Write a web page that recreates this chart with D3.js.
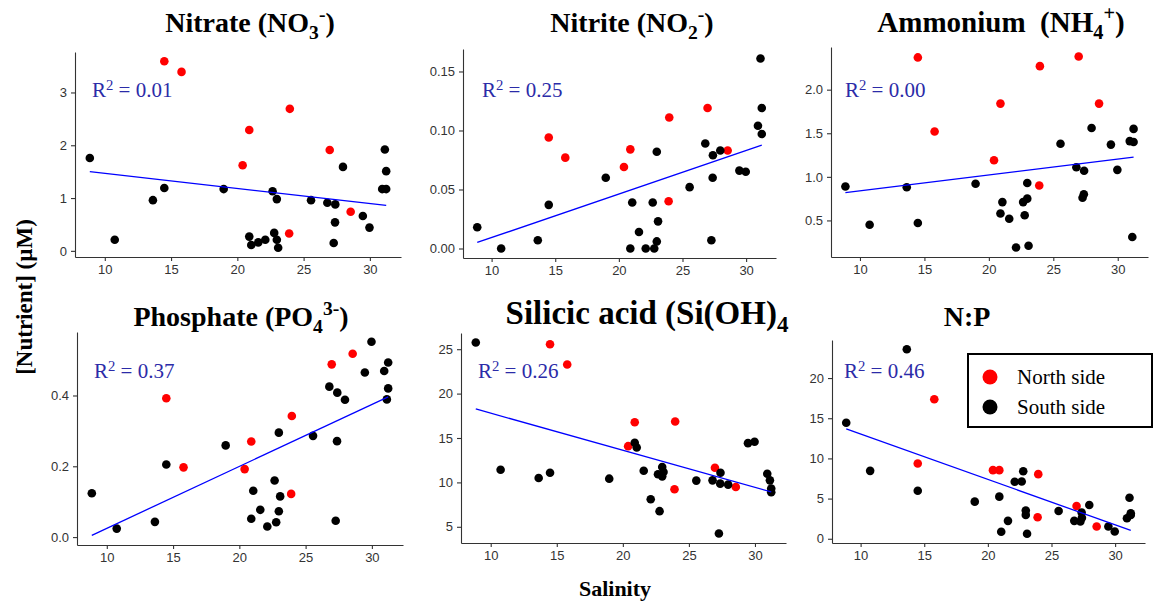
<!DOCTYPE html>
<html>
<head>
<meta charset="utf-8">
<script src="https://cdn.jsdelivr.net/npm/d3@7"></script>
<style>
  body { margin: 0; background: #fff; }
  text { white-space: pre; }
</style>
</head>
<body>
<svg id="chart" width="1155" height="601"></svg>
<script>
// salinity of the sampling stations (north side / south side)
const salinityNorth = [14.49, 15.79, 20.40, 20.90, 23.96, 23.91, 26.97, 28.55];
const salinitySouth = [8.87, 10.75, 13.63, 14.49, 18.97, 20.90, 21.05, 21.58, 22.11, 22.66,
  22.78, 22.98, 22.98, 23.08, 25.56, 26.79, 27.27, 27.37, 27.39, 27.97, 29.47, 29.97,
  30.93, 31.13, 31.23, 31.23];

// nutrient concentrations (uM), same station order as above
const nitrateNorth = [3.59, 3.39, 1.62, 2.29, 2.69, 0.33, 1.91, 0.74];
const nitrateSouth = [1.76, 0.21, 0.96, 1.19, 1.17, 0.27, 0.11, 0.16, 0.21, 1.13, 0.34, 0.98, 0.21,
  0.06, 0.96, 0.91, 0.15, 0.54, 0.88, 1.59, 0.66, 0.44, 1.17, 1.92, 1.17, 1.51];

const nitriteNorth = [0.094, 0.077, 0.069, 0.084, 0.111, 0.040, 0.119, 0.083];
const nitriteSouth = [0.018, 0.000, 0.007, 0.037, 0.060, 0.000, 0.039, 0.014, 0.000, 0.039, 0.000,
  0.006, 0.082, 0.023, 0.052, 0.089, 0.007, 0.060, 0.079, 0.083, 0.066, 0.065, 0.104, 0.161, 0.097, 0.119];

const ammoniumNorth = [2.37, 1.52, 1.19, 1.84, 2.27, 0.90, 2.38, 1.84];
const ammoniumSouth = [0.89, 0.45, 0.88, 0.47, 0.92, 0.58, 0.71, 0.52, 0.19, 0.71, 0.56, 0.75, 0.93,
  0.21, 1.38, 1.11, 0.76, 0.80, 1.07, 1.56, 1.37, 1.08, 1.41, 0.31, 1.40, 1.55];

const phosphateNorth = [0.392, 0.197, 0.192, 0.270, 0.342, 0.122, 0.488, 0.518];
const phosphateSouth = [0.124, 0.024, 0.043, 0.205, 0.259, 0.052, 0.131, 0.077, 0.030, 0.160, 0.042,
  0.073, 0.295, 0.115, 0.286, 0.425, 0.046, 0.271, 0.408, 0.388, 0.465, 0.552, 0.469, 0.389, 0.493, 0.420];

const silicicNorth = [25.56, 23.28, 14.08, 16.78, 16.85, 9.22, 11.65, 9.49];
const silicicSouth = [25.75, 11.43, 10.50, 11.09, 10.42, 14.46, 13.93, 11.32, 8.10, 10.91, 6.76, 10.68,
  11.73, 11.17, 10.20, 10.23, 4.25, 9.86, 11.09, 9.75, 14.42, 14.57, 10.98, 10.23, 8.89, 9.30];

const npNorth = [9.36, 17.36, 8.54, 8.54, 8.04, 2.68, 4.08, 1.53];
const npSouth = [14.43, 8.45, 23.59, 5.98, 4.62, 5.24, 0.87, 2.23, 7.09, 7.13, 8.41, 3.51, 2.97, 0.62,
  3.46, 2.23, 2.14, 3.26, 2.60, 4.21, 1.53, 0.91, 2.56, 5.11, 3.18, 2.97];

// fitted linear trend, value at lowest and highest salinity
const trendNitrate = [1.50, 0.86];
const trendNitrite = [0.0051, 0.0875];
const trendAmmonium = [0.819, 1.227];
const trendPhosphate = [0.005, 0.396];
const trendSilicic = [18.27, 8.93];
const trendNP = [13.69, 1.03];

const r2Labels = ["0.01", "0.25", "0.00", "0.37", "0.26", "0.46"];

// tick values
const xTicks = [10, 15, 20, 25, 30];
const nitrateTicks = [0, 1, 2, 3];
const nitriteTicks = [0, 0.05, 0.10, 0.15];
const ammoniumTicks = [0.5, 1.0, 1.5, 2.0];
const phosphateTicks = [0.0, 0.2, 0.4];
const silicicTicks = [5, 10, 15, 20, 25];
const npTicks = [0, 5, 10, 15, 20];

const legendLabels = ["North side", "South side"];
const sideColors = ["#ff0000", "#000000"];

const serif = "'Liberation Serif', 'Times New Roman', serif";
const sans = "'Liberation Sans', Arial, sans-serif";

const svg = d3.select("#chart");

// ggplot style 5% expansion
function expand(ext) {
    const pad = (ext[1] - ext[0]) * 0.05;
    return [ext[0] - pad, ext[1] + pad];
}

const salExtent = d3.extent(salinityNorth.concat(salinitySouth));
const xDomain = expand(salExtent);

const panels = [
    { title: [["Nitrate (NO"], ["3", "sub"], ["-", "sup"], [")"]], titleX: 250, titleY: 32, titleSize: 28,
      left: 75, right: 401, top: 52, bottom: 257, r2x: 92, r2y: 97,
      north: nitrateNorth, south: nitrateSouth, trend: trendNitrate, ticks: nitrateTicks, fmt: d3.format("d") },
    { title: [["Nitrite (NO"], ["2", "sub"], ["-", "sup"], [")"]], titleX: 632, titleY: 32, titleSize: 28,
      left: 463, right: 776, top: 49, bottom: 258, r2x: 482, r2y: 97,
      north: nitriteNorth, south: nitriteSouth, trend: trendNitrite, ticks: nitriteTicks, fmt: d3.format(".2f") },
    { title: [["Ammonium  (NH"], ["4", "sub"], ["+", "sup"], [")"]], titleX: 1001, titleY: 32, titleSize: 29,
      left: 831, right: 1148, top: 47, bottom: 257, r2x: 845, r2y: 97,
      north: ammoniumNorth, south: ammoniumSouth, trend: trendAmmonium, ticks: ammoniumTicks, fmt: d3.format(".1f") },
    { title: [["Phosphate (PO"], ["4", "sub"], ["3-", "sup"], [")"]], titleX: 241, titleY: 326, titleSize: 28,
      left: 77, right: 403, top: 332, bottom: 545, r2x: 94, r2y: 378,
      north: phosphateNorth, south: phosphateSouth, trend: trendPhosphate, ticks: phosphateTicks, fmt: d3.format(".1f") },
    { title: [["Silicic acid (Si(OH)"], ["4", "sub"]], titleX: 647, titleY: 324, titleSize: 33,
      left: 461, right: 786, top: 333, bottom: 543, r2x: 478, r2y: 378,
      north: silicicNorth, south: silicicSouth, trend: trendSilicic, ticks: silicicTicks, fmt: d3.format("d") },
    { title: [["N:P"]], titleX: 967, titleY: 326, titleSize: 28,
      left: 832, right: 1145, top: 340, bottom: 543, r2x: 844, r2y: 378,
      north: npNorth, south: npSouth, trend: trendNP, ticks: npTicks, fmt: d3.format("d") }
];

// text made of normal / sub / sup pieces
function richText(sel, parts, size, subShift, supShift) {
    let prev = 0;
    parts.forEach(p => {
        const kind = p[1];
        const shift = kind === "sub" ? subShift : kind === "sup" ? supShift : 0;
        sel.append("tspan")
            .attr("dy", shift - prev)
            .attr("font-size", kind ? size * 0.7 : size)
            .text(p[0]);
        prev = shift;
    });
}

panels.forEach((p, i) => {
    const x = d3.scaleLinear().domain(xDomain).range([p.left, p.right]);
    const allY = p.north.concat(p.south, p.trend);
    const y = d3.scaleLinear().domain(expand(d3.extent(allY))).range([p.bottom, p.top]);

    // title
    const t = svg.append("text")
        .attr("x", p.titleX)
        .attr("y", p.titleY)
        .attr("text-anchor", "middle")
        .attr("font-family", serif)
        .attr("font-weight", "bold")
        .attr("font-size", p.titleSize);
    richText(t, p.title, p.titleSize, p.titleSize * 0.25, -p.titleSize * 0.4);

    // axes
    const xAxis = svg.append("g")
        .attr("transform", `translate(0,${p.bottom})`)
        .call(d3.axisBottom(x).tickValues(xTicks).tickSize(4).tickSizeOuter(0).tickPadding(4));
    const yAxis = svg.append("g")
        .attr("transform", `translate(${p.left},0)`)
        .call(d3.axisLeft(y).tickValues(p.ticks).tickFormat(p.fmt).tickSize(4).tickSizeOuter(0).tickPadding(4));
    [xAxis, yAxis].forEach(a => {
        a.select(".domain").attr("stroke", "#333").attr("stroke-width", 1.1);
        a.selectAll(".tick line").attr("stroke", "#333").attr("stroke-width", 1.1);
        a.selectAll(".tick text")
            .attr("fill", "#333")
            .attr("font-family", sans)
            .attr("font-size", 13);
    });

    // points, north first then south on top
    const pts = salinityNorth.map((s, k) => ({ s: s, v: p.north[k], side: 0 }))
        .concat(salinitySouth.map((s, k) => ({ s: s, v: p.south[k], side: 1 })));
    svg.append("g")
        .selectAll("circle")
        .data(pts)
        .enter()
        .append("circle")
        .attr("cx", d => x(d.s))
        .attr("cy", d => y(d.v))
        .attr("r", 4.3)
        .attr("fill", d => sideColors[d.side]);

    // trend line
    const line = d3.line().x(d => x(d[0])).y(d => y(d[1]));
    svg.append("path")
        .datum([[salExtent[0], p.trend[0]], [salExtent[1], p.trend[1]]])
        .attr("d", line)
        .attr("fill", "none")
        .attr("stroke", "#0000ff")
        .attr("stroke-width", 1.3);

    // R squared label
    const r = svg.append("text")
        .attr("x", p.r2x)
        .attr("y", p.r2y)
        .attr("font-family", serif)
        .attr("fill", "#2b2ba8")
        .attr("font-size", 21);
    richText(r, [["R"], ["2", "sup"], [" = " + r2Labels[i]]], 21, 0, -7);
});

// legend
const legend = svg.append("g");
legend.append("rect")
    .attr("x", 968)
    .attr("y", 354)
    .attr("width", 184)
    .attr("height", 73)
    .attr("fill", "#fff")
    .attr("stroke", "#000")
    .attr("stroke-width", 2);
legendLabels.forEach((lab, k) => {
    legend.append("circle")
        .attr("cx", 990)
        .attr("cy", 377 + k * 30)
        .attr("r", 7.5)
        .attr("fill", sideColors[k]);
    legend.append("text")
        .attr("x", 1017)
        .attr("y", 384 + k * 30)
        .attr("font-family", serif)
        .attr("font-size", 21)
        .text(lab);
});

// axis titles
svg.append("text")
    .attr("transform", "translate(32,297) rotate(-90)")
    .attr("text-anchor", "middle")
    .attr("font-family", serif)
    .attr("font-weight", "bold")
    .attr("font-size", 23)
    .text("[Nutrient] (\u00b5M)");

svg.append("text")
    .attr("x", 615)
    .attr("y", 596)
    .attr("text-anchor", "middle")
    .attr("font-family", serif)
    .attr("font-weight", "bold")
    .attr("font-size", 22)
    .text("Salinity");
</script>
</body>
</html>
